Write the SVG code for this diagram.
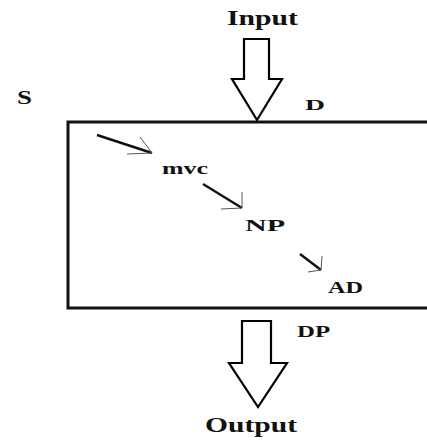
<svg xmlns="http://www.w3.org/2000/svg" width="427" height="441" viewBox="0 0 427 441">
<defs>
<style>
.lbl{font-family:"Liberation Serif",serif;font-weight:bold;fill:#111;}
.big{stroke:#000;stroke-width:2.2;fill:#fff;stroke-linejoin:miter;}
.ln{stroke:#111;stroke-width:2.4;fill:none;}
.hd{stroke:#555;stroke-width:1;fill:none;}
</style>
</defs>
<rect width="427" height="441" fill="#fff"/>
<g id="box">
<path d="M430,122 H68 V308 H430" fill="none" stroke="#111" stroke-width="3"/>
</g>
<g id="connectors">
<g id="input-arrow">
<polygon class="big" points="244,39 269,39 269,79 282,79 257,120 232,79 244,79"/>
</g>
<g id="output-arrow">
<polygon class="big" points="242,321 271,321 271,363 287,363 258,407 229,363 242,363"/>
</g>
<g id="a1">
<line class="ln" x1="97" y1="135" x2="152" y2="153"/>
<path class="hd" d="M140,137 L152,153 L127,154"/>
</g>
<g id="a2">
<line class="ln" x1="203" y1="184" x2="242" y2="208"/>
<path class="hd" d="M242,192 L242,208 L221,209"/>
</g>
<g id="a3">
<line class="ln" x1="300" y1="254" x2="321" y2="270"/>
<path class="hd" d="M322,256 L321,270 L308,272"/>
</g>
</g>
<g id="n-input"><text class="lbl" x="227" y="25" font-size="20" textLength="71" lengthAdjust="spacingAndGlyphs">Input</text></g>
<g id="n-s"><text class="lbl" x="17" y="104" font-size="19" textLength="15" lengthAdjust="spacingAndGlyphs">S</text></g>
<g id="n-d"><text class="lbl" x="305" y="110" font-size="14" textLength="20" lengthAdjust="spacingAndGlyphs">D</text></g>
<g id="n-mvc"><text class="lbl" x="162" y="174" font-size="17" textLength="46" lengthAdjust="spacingAndGlyphs">mvc</text></g>
<g id="n-np"><text class="lbl" x="245" y="231" font-size="16" textLength="40" lengthAdjust="spacingAndGlyphs">NP</text></g>
<g id="n-ad"><text class="lbl" x="328" y="293" font-size="16" textLength="35" lengthAdjust="spacingAndGlyphs">AD</text></g>
<g id="n-dp"><text class="lbl" x="297" y="337" font-size="16" textLength="33" lengthAdjust="spacingAndGlyphs">DP</text></g>
<g id="n-output"><text class="lbl" x="205" y="432" font-size="21" textLength="92" lengthAdjust="spacingAndGlyphs">Output</text></g>
</svg>
